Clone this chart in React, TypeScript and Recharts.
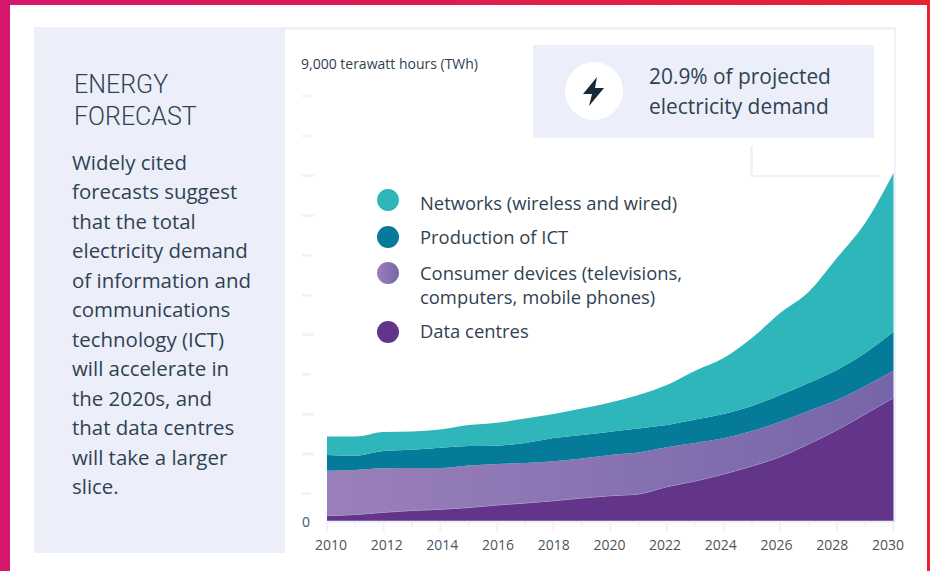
// Energy forecast: stacked area of ICT electricity demand, 2010-2030
import React from "react";
import { AreaChart, Area, XAxis, YAxis, Legend } from "recharts";

const years = [2010, 2011, 2012, 2013, 2014, 2015, 2016, 2017, 2018, 2019, 2020, 2021, 2022, 2023, 2024, 2025, 2026, 2027, 2028, 2029, 2030];
const dataCentres = [133, 158, 205, 243, 268, 306, 359, 401, 450, 507, 556, 592, 746, 866, 1014, 1183, 1380, 1648, 1944, 2282, 2626];
const consumerDevices = [951, 940, 930, 898, 873, 887, 866, 845, 832, 835, 860, 877, 832, 803, 754, 739, 739, 697, 634, 592, 570];
const production = [332, 306, 365, 385, 429, 412, 387, 423, 492, 496, 492, 507, 471, 496, 513, 528, 564, 592, 634, 697, 824];
const networks = [391, 401, 401, 387, 385, 444, 486, 518, 507, 560, 617, 708, 845, 1031, 1183, 1437, 1732, 1923, 2366, 2747, 3353];

const yTicks = [0, 602, 1437, 2275, 3120, 3957, 4790, 5635, 6471, 7316, 8155, 9000];
const longDashes = [1437, 2275, 3957, 6471, 7316];

const bodyLines = [
  "Widely cited",
  "forecasts suggest",
  "that the total",
  "electricity demand",
  "of information and",
  "communications",
  "technology (ICT)",
  "will accelerate in",
  "the 2020s, and",
  "that data centres",
  "will take a larger",
  "slice.",
];

const chartData = years.map((year, i) => ({
  year,
  dataCentres: dataCentres[i],
  consumerDevices: consumerDevices[i],
  production: production[i],
  networks: networks[i],
}));

const FONT = "'Open Sans', sans-serif";
const INK = "#2f4252";
const PALE = "#eceff9";
const RULE = "#eff1fb";

const legendRows = [
  { lines: ["Networks (wireless and wired)"], top: 191, dot: 200, fill: "#2eb6ba" },
  { lines: ["Production of ICT"], top: 225, dot: 237, fill: "#067a99" },
  { lines: ["Consumer devices (televisions,", "computers, mobile phones)"], top: 261, dot: 273, fill: "linear-gradient(90deg, #9a80ba, #7665a8)" },
  { lines: ["Data centres"], top: 319, dot: 332, fill: "#62358a" },
];

const ChartLegend = () => (
  <div style={{ position: "relative", width: 0, height: 0 }}>
    {legendRows.map((row) => (
      <React.Fragment key={row.lines[0]}>
        <div style={{ position: "absolute", left: 377, top: row.dot - 11, width: 22, height: 22, borderRadius: 11, background: row.fill }} />
        <div style={{ position: "absolute", left: 420, top: row.top, whiteSpace: "pre", fontFamily: FONT, fontSize: 18.4, lineHeight: "24px", color: INK, textAlign: "left" }}>
          {row.lines.join("\n")}
        </div>
      </React.Fragment>
    ))}
  </div>
);

const YTick = ({ y, payload }: any) => {
  if (payload.value === 0) {
    return <text x={306} y={y + 5} textAnchor="middle" fontFamily={FONT} fontSize={14} fill="#4a5561">0</text>;
  }
  const end = longDashes.includes(payload.value) ? 314 : 311;
  return <line x1={302} x2={end} y1={y} y2={y} stroke={RULE} strokeWidth={2.5} />;
};

const XTick = ({ x, payload }: any) => {
  const even = payload.value % 2 === 0;
  // labels in the original sit on a slightly narrower spacing than the ticks
  const shift = 4 - (payload.value - 2010) * 0.48;
  return (
    <g>
      <line x1={x} x2={x} y1={522} y2={even ? 532 : 527} stroke={RULE} strokeWidth={2} />
      {even && (
        <text x={x + shift} y={550} textAnchor="middle" fontFamily={FONT} fontSize={14} fill="#4a5561">
          {payload.value}
        </text>
      )}
    </g>
  );
};

export default function App() {
  return (
    <div style={{ position: "fixed", left: 0, top: 0, width: 930, height: 571, overflow: "hidden", background: "linear-gradient(90deg, #d6166d, #e8222f)" }}>
      <div style={{ position: "absolute", left: 10, top: 5, width: 916.5, height: 570, background: "#fff" }} />

      {/* left text panel */}
      <div style={{ position: "absolute", left: 34, top: 27, width: 251, height: 526, background: PALE }} />
      <div style={{ position: "absolute", left: 74, top: 68.5, fontFamily: "Roboto, sans-serif", fontWeight: 300, fontSize: 25, lineHeight: "32px", color: INK }}>
        ENERGY<br />FORECAST
      </div>
      <div style={{ position: "absolute", left: 72, top: 148, fontFamily: FONT, fontSize: 20.45, lineHeight: "29.45px", color: INK, whiteSpace: "pre" }}>
        {bodyLines.join("\n")}
      </div>

      {/* frame around the plot */}
      <div style={{ position: "absolute", left: 285, top: 27, width: 611, height: 2.5, background: RULE }} />
      <div style={{ position: "absolute", left: 893.5, top: 27, width: 2.5, height: 495, background: RULE }} />

      {/* callout */}
      <div style={{ position: "absolute", left: 750, top: 146, width: 2.5, height: 31, background: RULE }} />
      <div style={{ position: "absolute", left: 750, top: 174.5, width: 130, height: 2.5, background: RULE }} />
      <div style={{ position: "absolute", left: 533, top: 45, width: 341, height: 93, background: PALE }} />
      <div style={{ position: "absolute", left: 565, top: 62, width: 58, height: 58, borderRadius: 29, background: "#fff" }} />
      <svg style={{ position: "absolute", left: 565, top: 62 }} width={58} height={58}>
        <path d="M32 15 L18 32 L27 32 L24 44 L39 26 L30 26 Z" fill="#14293a" />
      </svg>
      <div style={{ position: "absolute", left: 649, top: 61, fontFamily: FONT, fontSize: 20.9, lineHeight: "30px", color: INK }}>
        20.9% of projected<br />electricity demand
      </div>

      <div style={{ position: "absolute", left: 301, top: 55, fontFamily: FONT, fontSize: 14, lineHeight: "18px", color: INK, whiteSpace: "pre" }}>
        9,000 terawatt hours (TWh)
      </div>

      <div style={{ position: "absolute", left: 0, top: 0 }}>
        <AreaChart width={930} height={571} data={chartData} margin={{ top: 96, right: 36.5, bottom: 0, left: 302 }}>
          <defs>
            <linearGradient id="consumerFill" x1="0" y1="0" x2="1" y2="0">
              <stop offset="0%" stopColor="#9a80ba" />
              <stop offset="100%" stopColor="#7665a8" />
            </linearGradient>
          </defs>
          <XAxis
            dataKey="year"
            type="number"
            domain={[2010, 2030]}
            ticks={years}
            interval={0}
            height={49}
            axisLine={{ stroke: RULE, strokeWidth: 2.5 }}
            tickLine={false}
            tick={<XTick />}
          />
          <YAxis width={25} domain={[0, 9000]} ticks={yTicks} interval={0} axisLine={false} tickLine={false} tick={<YTick />} />
          <Legend layout="horizontal" verticalAlign="middle" align="center" content={<ChartLegend />} wrapperStyle={{ left: 0, top: 0, width: 0, height: 0 }} />
          <Area type="monotone" dataKey="dataCentres" stackId="ict" stroke="#b9a8d2" strokeWidth={1} fill="#62358a" fillOpacity={1} isAnimationActive={false} />
          <Area type="monotone" dataKey="consumerDevices" stackId="ict" stroke="none" fill="url(#consumerFill)" fillOpacity={1} isAnimationActive={false} />
          <Area type="monotone" dataKey="production" stackId="ict" stroke="none" fill="#067a99" fillOpacity={1} isAnimationActive={false} />
          <Area type="monotone" dataKey="networks" stackId="ict" stroke="none" fill="#2eb6ba" fillOpacity={1} isAnimationActive={false} />
        </AreaChart>
      </div>
    </div>
  );
}
